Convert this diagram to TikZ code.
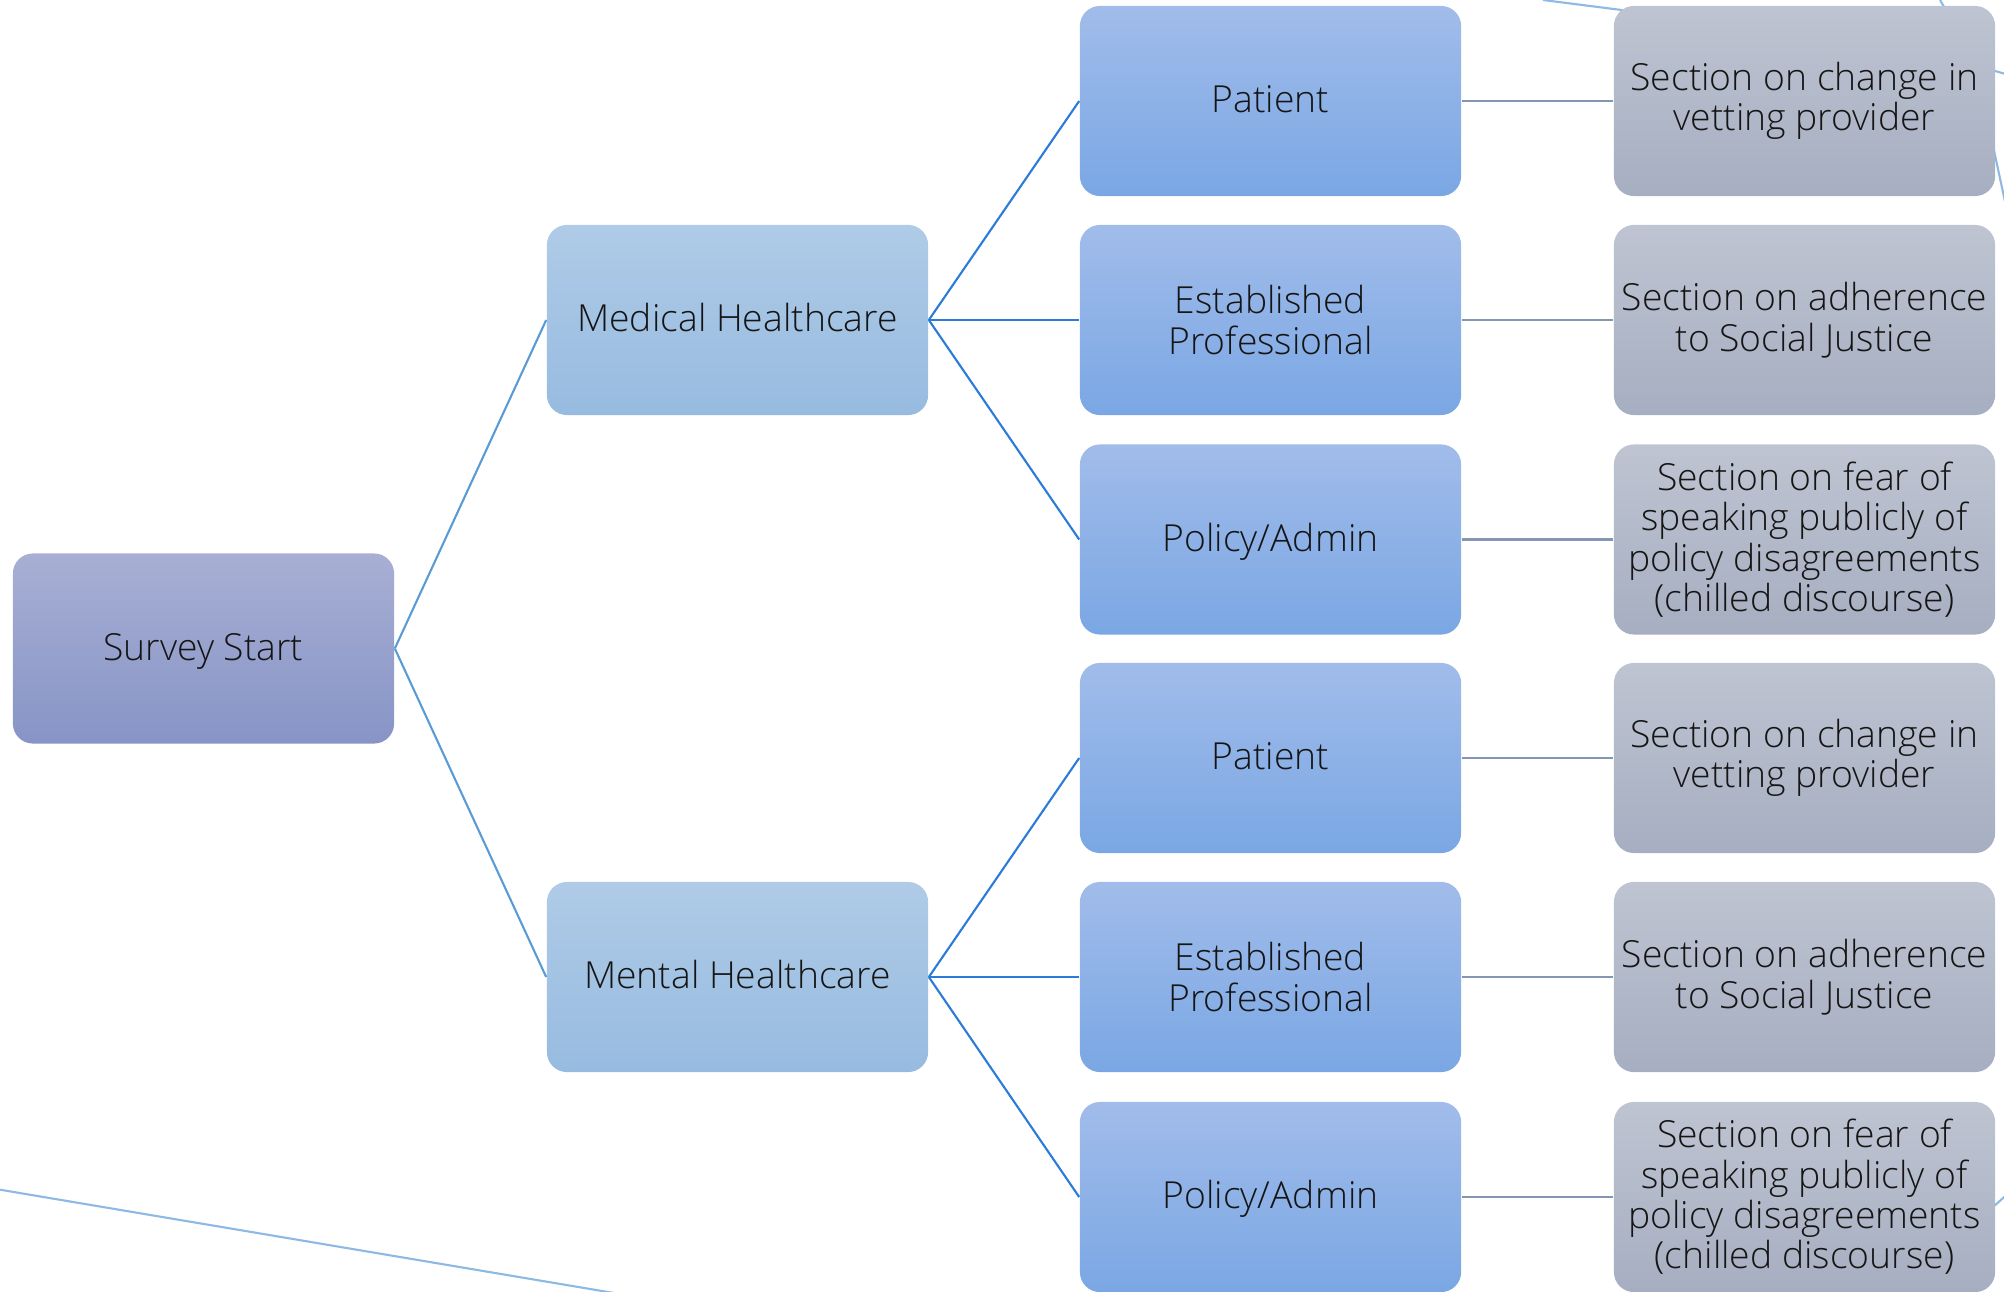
\documentclass[tikz,border=0pt]{standalone}
\usepackage{fontspec}
\setmainfont{Open Sans}[UprightFont=* Light]
\definecolor{sTop}{HTML}{A8AFD4}
\definecolor{sBot}{HTML}{8794C6}
\definecolor{gTop}{HTML}{AFCBE7}
\definecolor{gBot}{HTML}{97BBE0}
\definecolor{rTop}{HTML}{A1BCEA}
\definecolor{rBot}{HTML}{7AA7E4}
\definecolor{qTop}{HTML}{BEC4D1}
\definecolor{qBot}{HTML}{A6AEC1}
\definecolor{lblue}{HTML}{5B9BD5}
\definecolor{dblue}{HTML}{2B7BD8}
\definecolor{lgrey}{HTML}{8496B4}
\definecolor{faint}{HTML}{8DB9E3}
\definecolor{dtext}{HTML}{151515}

\begin{document}
\begin{tikzpicture}[
  x=0.01cm, y=-0.01cm,
  font=\fontsize{10.6}{11.5}\selectfont,
  box/.style={rounded corners=2mm, minimum width=3.81cm, minimum height=1.9cm,
              inner sep=1pt, align=center, text=dtext},
  one/.style={text height=0.9em, text depth=0.24em},
  startbox/.style={box, one, top color=sTop, bottom color=sBot},
  groupbox/.style={box, one, top color=gTop, bottom color=gBot},
  rolebox/.style={box, top color=rTop, bottom color=rBot},
  secbox/.style={box, top color=qTop, bottom color=qBot},
  lnkA/.style={lblue, line width=0.6pt},
  lnkB/.style={dblue, line width=0.6pt},
  lnkC/.style={lgrey, line width=0.6pt},
  stray/.style={faint, line width=0.6pt},
]
\useasboundingbox (0,0) rectangle (2004,1291);
\clip (0,0) rectangle (2004,1291);

% ---------------- links to boxes outside the view ----------------
\coordinate (ta) at (1543,0);    \coordinate (tb) at (1700,20);
\coordinate (ua) at (1940,0);    \coordinate (ub) at (1952,21);
\coordinate (ra) at (1960,61);   \coordinate (rb) at (2030,81);
\coordinate (sa) at (1990,132);  \coordinate (sb) at (2010,225);
\coordinate (va) at (1975,1223); \coordinate (vb) at (2030,1174);
\coordinate (wa) at (-10,1188);  \coordinate (wb) at (620,1294);
\draw[stray] (ta) -- (tb);
\draw[stray] (ua) -- (ub);
\draw[stray] (ra) -- (rb);
\draw[stray] (sa) -- (sb);
\draw[stray] (va) -- (vb);
\draw[stray] (wa) -- (wb);

% ---------------- the tree ----------------
\node[startbox] (start) at (203.5,648.5) {Survey Start};
\node[groupbox] (med)  at (737.5,320) {Medical Healthcare};
\node[groupbox] (ment) at (737.5,977) {Mental Healthcare};

\node[rolebox, one] (medpat)  at (1270.5,101)   {Patient};
\node[rolebox]      (medpro)  at (1270.5,320)   {Established\\Professional};
\node[rolebox, one] (medpol)  at (1270.5,539.5) {Policy/Admin};
\node[rolebox, one] (mentpat) at (1270.5,758)   {Patient};
\node[rolebox]      (mentpro) at (1270.5,977)   {Established\\Professional};
\node[rolebox, one] (mentpol) at (1270.5,1197)  {Policy/Admin};

\node[secbox] (medpatsec)  at (1804.5,101)   {Section on change in\\vetting provider};
\node[secbox] (medprosec)  at (1804.5,320)   {Section on adherence\\to Social Justice};
\node[secbox] (medpolsec)  at (1804.5,539.5) {Section on fear of\\speaking publicly of\\policy disagreements\\(chilled discourse)};
\node[secbox] (mentpatsec) at (1804.5,758)   {Section on change in\\vetting provider};
\node[secbox] (mentprosec) at (1804.5,977)   {Section on adherence\\to Social Justice};
\node[secbox] (mentpolsec) at (1804.5,1197)  {Section on fear of\\speaking publicly of\\policy disagreements\\(chilled discourse)};

% ---------------- connectors ----------------
\draw[lnkA] (start.east) -- (med.west);
\draw[lnkA] (start.east) -- (ment.west);
\foreach \g in {med,ment}
  \foreach \r in {pat,pro,pol} {
    \draw[lnkB] (\g.east) -- (\g\r.west);
    \draw[lnkC] (\g\r.east) -- (\g\r sec.west);
  }

\end{tikzpicture}
\end{document}
